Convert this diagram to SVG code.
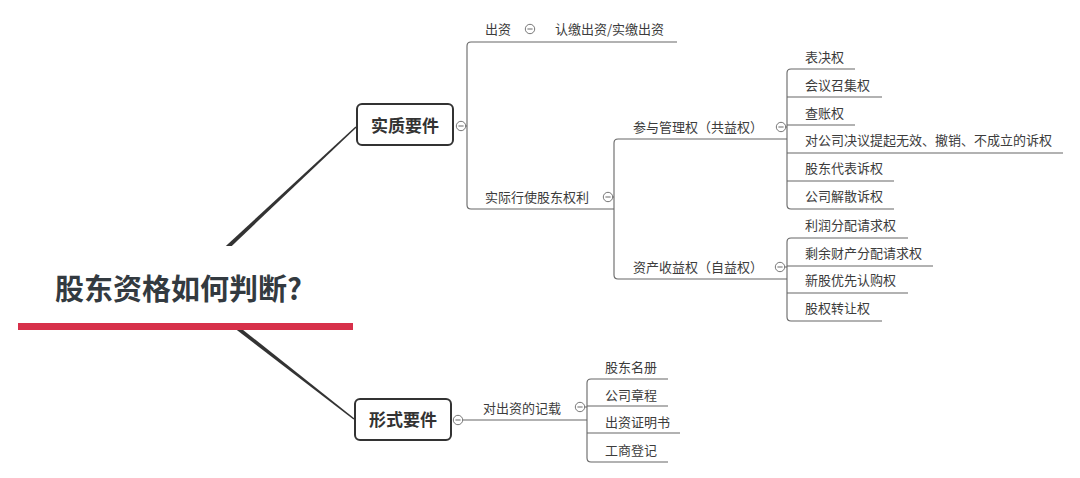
<svg xmlns="http://www.w3.org/2000/svg" width="1080" height="478" viewBox="0 0 1080 478">
<style>
.t{font-family:"Noto Sans CJK SC","Liberation Sans",sans-serif;font-size:13px;fill:#3c3c3c}
.b{font-family:"Noto Sans CJK SC","Liberation Sans",sans-serif;font-size:17px;font-weight:bold;fill:#333;text-anchor:middle}
.title{font-family:"Noto Sans CJK SC","Liberation Sans",sans-serif;font-size:29px;font-weight:bold;fill:#333a40}
.ln{fill:none;stroke:#666;stroke-width:1.1}
.box{fill:#fff;stroke:#333;stroke-width:2}
.btn{fill:#fff;stroke:#777;stroke-width:1}
.main{fill:#333}
</style>
<defs>
<g id="col"><circle r="4.7" class="btn"/><line x1="-2.6" y1="0" x2="2.6" y2="0" stroke="#777" stroke-width="1.1"/></g>
</defs>
<rect width="1080" height="478" fill="#fff"/>
<g id="connectors">
<polygon class="main" points="186.7,288.8 356.5,127.5 355.5,126.5 183.3,285.2"/>
<polygon class="main" points="183.5,289 353.5,419.6 354.5,418.4 186.5,285"/>
<path class="ln" d="M465,126 H467"/>
<path class="ln" d="M677,42 H471 Q467,42 467,46 V205 Q467,209 471,209 H614"/>
<path class="ln" d="M787,139 H618 Q614,139 614,143 V275 Q614,279 618,279 H787"/>
<path class="ln" d="M855,69 H791 Q787,69 787,73 V205 Q787,209 791,209 H894"/>
<path class="ln" d="M787,97 H882 M787,125 H855 M787,153 H1063 M787,181 H894"/>
<path class="ln" d="M908,238 H791 Q787,238 787,242 V317 Q787,321 791,321 H882"/>
<path class="ln" d="M787,266 H933 M787,293 H908"/>
<path class="ln" d="M462,420 H587"/>
<path class="ln" d="M668,379 H591 Q587,379 587,383 V458 Q587,462 591,462 H668"/>
<path class="ln" d="M587,406 H668 M587,433 H680"/>
<path class="ln" d="M785,127 H787 M784,267 H787 M584,407 H587 M612,197 H614"/>
</g>
<g id="root">
<rect x="18" y="246" width="335" height="77" fill="#fff"/>
<text class="title" x="55" y="300">股东资格如何判断?</text>
<rect x="18" y="323" width="335" height="7" fill="#d7304a"/>
</g>
<g id="n-shizhi">
<rect class="box" x="357" y="104" width="96" height="41" rx="5"/>
<text class="b" x="405" y="132">实质要件</text>
<use href="#col" x="461" y="126"/>
</g>
<g id="n-xingshi">
<rect class="box" x="355" y="399" width="96" height="41" rx="5"/>
<text class="b" x="403" y="426">形式要件</text>
<use href="#col" x="458" y="420"/>
</g>
<g id="n-chuzi">
<text class="t" x="485" y="33.5">出资</text>
<use href="#col" x="530" y="29"/>
</g>
<g id="n-renjiao"><text class="t" x="555" y="33.5">认缴出资/实缴出资</text></g>
<g id="n-shiji">
<text class="t" x="485" y="201.5">实际行使股东权利</text>
<use href="#col" x="608" y="197"/>
</g>
<g id="n-canyu">
<text class="t" x="633" y="131.5">参与管理权（共益权）</text>
<use href="#col" x="781" y="127"/>
</g>
<g id="n-zichan">
<text class="t" x="633" y="272">资产收益权（自益权）</text>
<use href="#col" x="780" y="267"/>
</g>
<g id="n-biaojue"><text class="t" x="805" y="62">表决权</text></g>
<g id="n-huiyi"><text class="t" x="805" y="90">会议召集权</text></g>
<g id="n-chazhang"><text class="t" x="805" y="117.5">查账权</text></g>
<g id="n-jueyi"><text class="t" x="805" y="145">对公司决议提起无效、撤销、不成立的诉权</text></g>
<g id="n-daibiao"><text class="t" x="805" y="173">股东代表诉权</text></g>
<g id="n-jiesan"><text class="t" x="805" y="201">公司解散诉权</text></g>
<g id="n-lirun"><text class="t" x="805" y="229.5">利润分配请求权</text></g>
<g id="n-shengyu"><text class="t" x="805" y="257.5">剩余财产分配请求权</text></g>
<g id="n-xingu"><text class="t" x="805" y="284.5">新股优先认购权</text></g>
<g id="n-guquan"><text class="t" x="805" y="312.5">股权转让权</text></g>
<g id="n-jizai">
<text class="t" x="483" y="412.5">对出资的记载</text>
<use href="#col" x="580" y="407"/>
</g>
<g id="n-mingce"><text class="t" x="605" y="371.5">股东名册</text></g>
<g id="n-zhangcheng"><text class="t" x="605" y="399.5">公司章程</text></g>
<g id="n-zhengming"><text class="t" x="605" y="426.5">出资证明书</text></g>
<g id="n-gongshang"><text class="t" x="605" y="454.5">工商登记</text></g>
</svg>
